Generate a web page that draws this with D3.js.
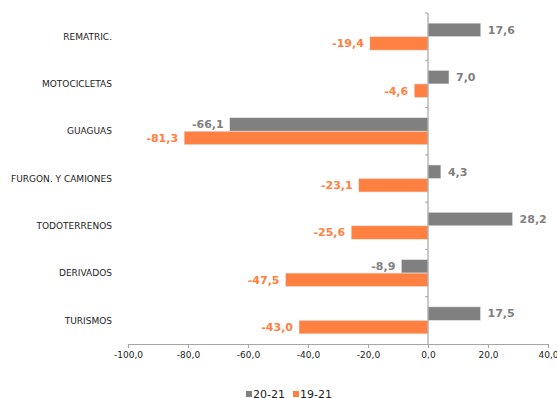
<!DOCTYPE html>
<html><head><meta charset="utf-8">
<script src="https://cdn.jsdelivr.net/npm/d3@7"></script>
<style>body{margin:0;background:#fff}svg{display:block}</style>
</head><body>
<svg id="c" width="557" height="398"></svg>
<script>
const categories = ["REMATRIC.","MOTOCICLETAS","GUAGUAS","FURGON. Y CAMIONES","TODOTERRENOS","DERIVADOS","TURISMOS"];
const series2021 = [17.6, 7.0, -66.1, 4.3, 28.2, -8.9, 17.5];
const series1921 = [-19.4, -4.6, -81.3, -23.1, -25.6, -47.5, -43.0];
const seriesNames = ["20-21","19-21"];
const xTicks = [-100,-80,-60,-40,-20,0,20,40];
const colors = ["#808080","#FF8040"];

const svg = d3.select("#c");
const font = "Verdana, 'DejaVu Sans', sans-serif";
const x = d3.scaleLinear().domain([-100,40]).range([128,548]);
const y = d3.scaleBand().domain(categories).range([13,344]).paddingInner(0).paddingOuter(0);
const inner = d3.scaleBand().domain([0,1]).range([0,y.bandwidth()]).paddingInner(0).paddingOuter(0.75);
const fmt = v => d3.format(".1f")(v).replace(".",",").replace("−","-");

const data = categories.map((c,i)=>({c, vals:[series2021[i], series1921[i]]}));

const g = svg.append("g");
data.forEach(d=>{
  d.vals.forEach((v,k)=>{
    const y0 = y(d.c)+inner(k);
    g.append("rect")
      .attr("x", x(Math.min(0,v))).attr("y", y0)
      .attr("width", Math.abs(x(v)-x(0))).attr("height", inner.bandwidth())
      .attr("fill", colors[k]).attr("stroke","#e6e6e6").attr("stroke-width",0.6);
    g.append("text")
      .attr("x", v>=0 ? x(v)+7 : x(v)-6)
      .attr("y", y0+inner.bandwidth()/2)
      .attr("dy","0.35em")
      .attr("text-anchor", v>=0 ? "start":"end")
      .attr("font-family", font).attr("font-size", 11).attr("font-weight","bold")
      .attr("fill", colors[k]).text(fmt(v));
  });
});

// y axis line with ticks
const yl = svg.append("g").attr("stroke","#a6a6a6");
yl.append("line").attr("x1",x(0)).attr("x2",x(0)).attr("y1",13).attr("y2",344).attr("stroke-width",1.2);
categories.forEach(c=>{
  yl.append("line").attr("x1",x(0)-3).attr("x2",x(0)).attr("y1",y(c)).attr("y2",y(c));
});

// category labels
svg.append("g").selectAll("text").data(categories).join("text")
  .attr("x",112).attr("y",c=>y(c)+y.bandwidth()/2).attr("dy","0.35em")
  .attr("text-anchor","end").attr("font-family",font).attr("font-size",9).attr("fill","#222")
  .text(c=>c);

// x axis
const xa = svg.append("g").attr("transform","translate(0,344)")
  .call(d3.axisBottom(x).tickValues(xTicks).tickSize(4).tickPadding(4).tickFormat(fmt));
xa.select(".domain").attr("stroke","#a6a6a6").attr("stroke-width",1.2);
xa.selectAll(".tick line").attr("stroke","#a6a6a6");
xa.selectAll("text").attr("font-family",font).attr("font-size",9).attr("fill","#222");

// legend
const lg = svg.append("g");
const lx = [246, 293];
seriesNames.forEach((n,k)=>{
  lg.append("rect").attr("x",lx[k]).attr("y",391).attr("width",6).attr("height",6).attr("fill",colors[k]);
  lg.append("text").attr("x",lx[k]+7).attr("y",398).attr("font-family",font).attr("font-size",11).attr("fill","#222").text(n);
});
</script>
</body></html>
